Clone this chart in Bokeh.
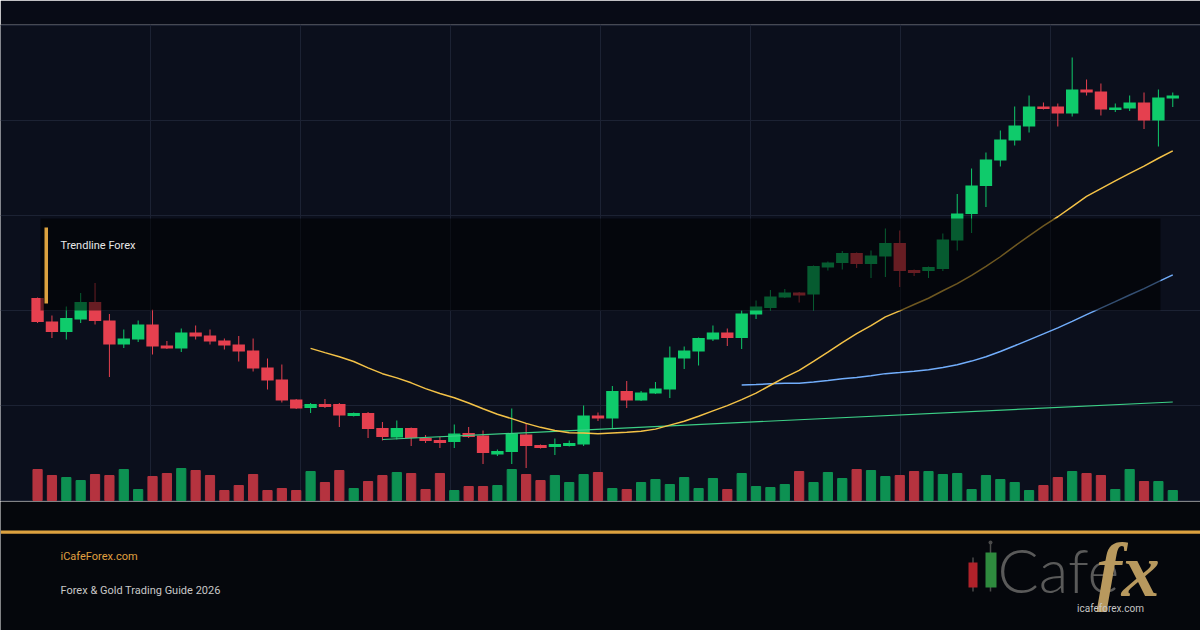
import numpy as np
import pandas as pd
from bokeh.plotting import figure
from bokeh.models import Range1d, FixedTicker
from bokeh.layouts import column
from bokeh.embed import file_html
from bokeh.resources import INLINE
from bokeh.core.properties import value

# ---------------- data ----------------
opens = [2040.5, 2035.8, 2033.7, 2036.2, 2039.7, 2036.0, 2031.2, 2032.2, 2035.2, 2031.0,
         2030.4, 2033.6, 2033.0, 2032.0, 2031.2, 2030.0, 2026.6, 2024.2, 2020.2, 2018.5,
         2019.3, 2019.3, 2016.9, 2017.5, 2014.5, 2012.6, 2014.5, 2012.5, 2012.1, 2011.7,
         2013.5, 2013.0, 2009.2, 2009.7, 2013.2, 2011.1, 2010.7, 2010.9, 2011.2, 2017.0,
         2016.4, 2021.9, 2020.0, 2021.4, 2022.2, 2028.4, 2029.8, 2032.2, 2033.6, 2032.5,
         2037.2, 2038.5, 2040.6, 2041.6, 2041.2, 2046.6, 2047.5, 2049.5, 2047.3, 2048.8,
         2051.5, 2046.1, 2045.9, 2046.3, 2052.0, 2057.3, 2062.9, 2068.0, 2072.0, 2074.8,
         2078.8, 2078.8, 2077.4, 2082.2, 2081.8, 2078.1, 2078.4, 2079.6, 2076.0, 2080.4]

closes = [2035.7, 2033.7, 2036.5, 2039.7, 2035.9, 2031.2, 2032.4, 2035.2, 2030.8, 2030.4,
          2033.6, 2032.8, 2031.8, 2031.0, 2029.8, 2026.4, 2024.0, 2020.0, 2018.4, 2019.3,
          2018.7, 2017.0, 2017.5, 2014.3, 2012.7, 2014.5, 2012.5, 2011.9, 2011.5, 2013.4,
          2012.7, 2009.5, 2009.9, 2013.4, 2010.9, 2010.5, 2011.3, 2011.5, 2017.0, 2016.4,
          2021.9, 2020.0, 2021.6, 2022.4, 2028.6, 2030.0, 2032.5, 2033.6, 2032.5, 2037.4,
          2038.8, 2040.8, 2041.6, 2041.0, 2046.9, 2047.6, 2049.5, 2047.3, 2049.0, 2051.5,
          2045.9, 2045.5, 2046.7, 2052.2, 2057.4, 2063.0, 2068.2, 2072.2, 2075.0, 2078.8,
          2078.3, 2077.4, 2082.2, 2081.6, 2078.2, 2078.6, 2079.6, 2076.0, 2080.6, 2081.0]

highs = [2040.6, 2037.0, 2038.8, 2041.5, 2043.5, 2037.3, 2034.2, 2036.0, 2038.2, 2031.9,
         2034.4, 2035.0, 2034.2, 2032.4, 2032.9, 2032.4, 2028.4, 2027.2, 2020.3, 2019.5,
         2020.3, 2019.5, 2017.6, 2017.7, 2015.7, 2016.0, 2014.6, 2013.1, 2012.7, 2015.2,
         2014.7, 2014.0, 2010.2, 2018.4, 2015.5, 2011.2, 2012.4, 2012.0, 2019.0, 2017.6,
         2022.9, 2023.9, 2021.9, 2023.7, 2030.8, 2030.8, 2032.6, 2035.0, 2034.4, 2038.0,
         2040.0, 2042.1, 2042.3, 2041.7, 2047.0, 2047.8, 2049.9, 2049.6, 2050.0, 2054.4,
         2054.0, 2046.2, 2046.8, 2053.4, 2061.3, 2066.4, 2069.6, 2074.0, 2078.8, 2081.0,
         2079.6, 2079.4, 2088.6, 2084.2, 2083.4, 2079.4, 2081.0, 2081.6, 2082.2, 2081.6]

lows = [2035.5, 2032.5, 2032.2, 2035.5, 2035.2, 2024.7, 2030.5, 2031.7, 2029.2, 2030.3,
        2029.7, 2032.2, 2031.2, 2030.2, 2027.8, 2025.8, 2022.2, 2019.6, 2018.3, 2017.5,
        2018.5, 2014.7, 2016.8, 2012.5, 2012.0, 2012.2, 2010.9, 2011.5, 2010.5, 2010.5,
        2012.5, 2007.3, 2008.9, 2007.3, 2006.5, 2010.4, 2009.1, 2010.8, 2010.9, 2015.9,
        2014.5, 2018.5, 2019.9, 2021.3, 2020.5, 2026.3, 2027.0, 2031.9, 2030.9, 2030.3,
        2036.3, 2038.0, 2040.5, 2039.6, 2038.0, 2046.0, 2046.2, 2046.5, 2044.5, 2044.7,
        2042.7, 2044.9, 2044.5, 2045.9, 2050.0, 2053.5, 2058.7, 2066.8, 2071.0, 2073.6,
        2078.2, 2074.8, 2076.8, 2081.0, 2077.0, 2077.7, 2077.9, 2074.3, 2070.8, 2078.7]

volumes = [3100, 2500, 2300, 2000, 2600, 2500, 3100, 1100, 2400, 2700,
           3200, 3000, 2500, 1000, 1500, 2600, 1000, 1200, 1000, 2900,
           1800, 3000, 1200, 1900, 2500, 2800, 2700, 1100, 2700, 1000,
           1400, 1400, 1500, 3100, 2600, 2000, 2500, 1800, 2600, 2800,
           1200, 1100, 1800, 2100, 1600, 2300, 1200, 2200, 1100, 2700,
           1400, 1300, 1600, 2900, 1800, 2800, 2200, 3100, 3000, 2400,
           2500, 2900, 2900, 2600, 2700, 1100, 2500, 2100, 1800, 1000,
           1500, 2300, 2900, 2700, 2500, 1100, 3100, 1900, 1900, 1000]

trend_idx = [24, 79]
trend_val = [2012.2, 2019.7]

label_text = "Trendline Forex"
footer_site = "iCafeForex.com"
footer_title = "Forex & Gold Trading Guide 2026"
logo_word = "Cafe"
logo_fx = "fx"
logo_url = "icafeforex.com"

# ---------------- styles ----------------
BG = "#0b0f1c"
TOP_BG = "#080b16"
FOOT_BG = "#05070c"
GRID = "#1c2233"
UP = "#0fcb6b"
DOWN = "#e5404f"
UP_VOL = "#0d9152"
DOWN_VOL = "#b5333f"
GOLD = "#dca13f"

n = len(closes)
idx = np.arange(n)
o = np.array(opens)
c = np.array(closes)
up = c >= o
body_col = [UP if u else DOWN for u in up]
vol_col = [UP_VOL if u else DOWN_VOL for u in up]

close_s = pd.Series(closes)
sma20 = close_s.rolling(20).mean().to_numpy()
sma50 = close_s.rolling(50).mean().to_numpy()

X0, X1 = -2.58, 80.93
CH = 501      # chart figure height (px)
TOP = 24      # top border (px)

p = figure(width=1200, height=CH, x_range=Range1d(X0, X1),
           y_range=Range1d(2100 - 0.2 * CH, 2100 - 0.2 * TOP),
           output_backend="svg", toolbar_location=None, min_border=0,
           background_fill_color=BG, border_fill_color=TOP_BG, outline_line_color=None)
p.min_border_top = TOP
p.xaxis.visible = False
p.yaxis.visible = False
p.extra_y_ranges = {"vol": Range1d(-100 * (CH - 500), 100 * (500 - TOP)),
                    "py": Range1d(CH, TOP)}
p.extra_x_ranges = {"px": Range1d(0, 1200)}

p.xgrid.ticker = FixedTicker(ticks=[X0 + k * (X1 - X0) / 8 for k in range(1, 8)])
p.ygrid.ticker = FixedTicker(ticks=[2000 + 19 * k for k in range(6)])
p.grid.grid_line_color = GRID
p.grid.grid_line_width = 1

# volume
p.vbar(x=idx, top=volumes, bottom=0, width=0.64, color=vol_col, y_range_name="vol")
# wicks + bodies
p.segment(x0=idx, y0=lows, x1=idx, y1=highs, color=body_col, line_width=1)
p.vbar(x=idx, top=np.maximum(o, c), bottom=np.minimum(o, c), width=0.86,
       fill_color=body_col, line_color=None)
# trend + moving averages
p.line(trend_idx, trend_val, line_color="#3ccf86", line_width=1.2)
p.line(idx, sma50, line_color="#72aefc", line_width=1.5)
p.line(idx, sma20, line_color="#f4c247", line_width=1.5)

# label overlay box
p.quad(left=40, right=1160, top=218, bottom=310, fill_color="black", fill_alpha=0.55,
       line_color=None, x_range_name="px", y_range_name="py")
p.quad(left=44, right=47.5, top=227, bottom=303, fill_color=GOLD, line_color=None,
       x_range_name="px", y_range_name="py")
p.text(x=[60], y=[245], text=[label_text], text_baseline="middle", text_align="left",
       text_font=value("Roboto"), text_font_size="11px", text_color="#e8e8e8",
       x_range_name="px", y_range_name="py")

# ---------------- footer ----------------
f = figure(width=1200, height=630 - CH, x_range=Range1d(0, 1200), y_range=Range1d(630, CH),
           output_backend="svg", toolbar_location=None, min_border=0,
           background_fill_color=FOOT_BG, border_fill_color=FOOT_BG, outline_line_color=None)
f.axis.visible = False
f.grid.visible = False

f.quad(left=0, right=1200, top=530, bottom=533.3, fill_color=GOLD, line_color=None)
f.text(x=[60], y=[556], text=[footer_site], text_baseline="middle",
       text_font=value("Roboto"), text_font_size="11px", text_color="#e0a040")
f.text(x=[60], y=[590], text=[footer_title], text_baseline="middle",
       text_font=value("Roboto"), text_font_size="11px", text_color="#c8c8c8")

# logo
f.segment(x0=[972.5, 990], y0=[557, 543], x1=[972.5, 990], y1=[591, 591],
          line_color="#4a4a4a", line_width=1.5)
f.quad(left=[968, 985], right=[977, 996], top=[562, 552], bottom=[587, 587],
       fill_color=["#b0222a", "#2e8b3e"], line_color=None)
f.scatter(x=[990], y=[542], size=4, fill_color="#4a4a4a", line_color=None)
f.text(x=[997], y=[569], text=[logo_word], text_baseline="middle",
       text_font=value("Lato Light"), text_font_size="61px", text_color="#5a5a5a")
f.text(x=[1096], y=[569], text=[logo_fx], text_baseline="middle",
       text_font=value("Liberation Serif"), text_font_style="bold italic",
       text_font_size="76px", text_color="#b8995e")
f.text(x=[1110], y=[607.5], text=[logo_url], text_baseline="middle", text_align="center",
       text_font=value("Roboto"), text_font_size="10px", text_color="#c4c4c4")

layout = column(p, f, spacing=0)
open("out.html", "w").write(file_html(layout, INLINE))
